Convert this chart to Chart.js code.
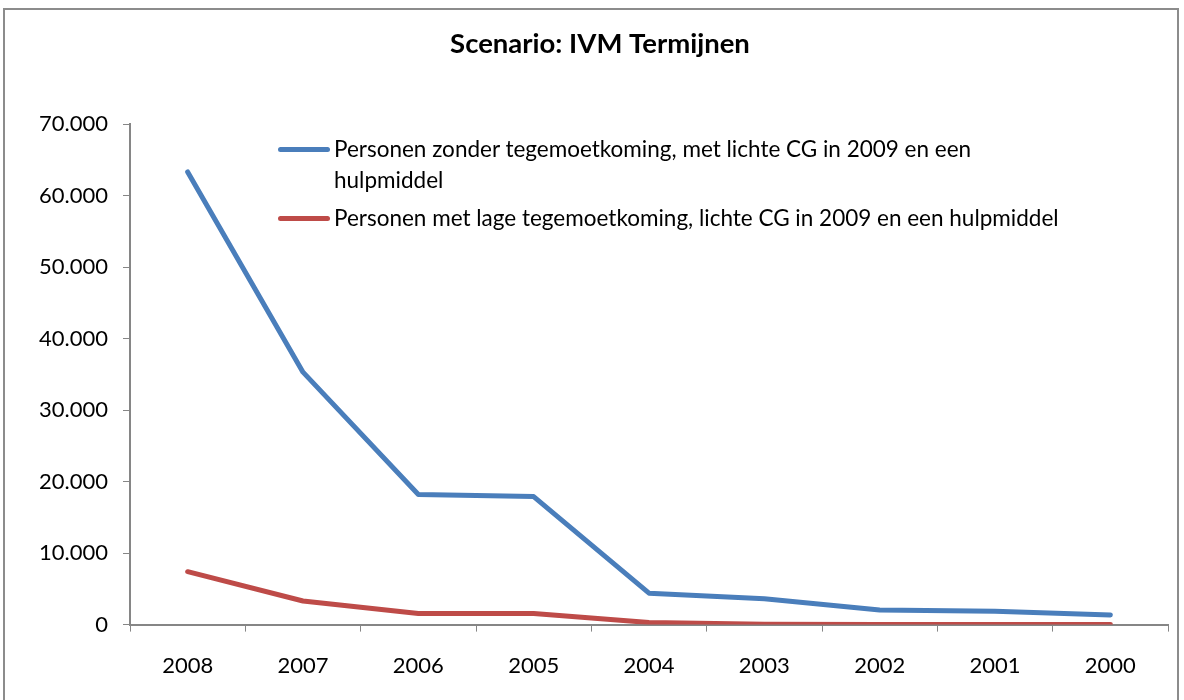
<!DOCTYPE html>
<html>
<head>
<meta charset="utf-8">
<script src="https://cdn.jsdelivr.net/npm/chart.js@4.4.1/dist/chart.umd.min.js"></script>
<style>
  html, body { margin: 0; padding: 0; background: #fff; overflow: hidden; }
  #wrap { position: relative; width: 1184px; height: 700px; }
  #frame { position: absolute; left: 3px; top: 8px; width: 1176px; height: 720px; border: 2px solid #8c8c8c; box-sizing: border-box; }
  canvas { position: absolute; left: 0; top: 0; }
  #legend { position: absolute; left: 278px; top: 133px; font-family: Lato, sans-serif; font-size: 22.5px; color: #000; }
  .item { display: flex; align-items: flex-start; margin-bottom: 7px; }
  .swatch { width: 52px; height: 5px; border-radius: 3px; margin-top: 14px; margin-right: 4px; flex: none; }
  .txt { line-height: 31px; white-space: nowrap; }
</style>
</head>
<body>
<div id="wrap">
  <div id="frame"></div>
  <canvas id="chart" width="1184" height="700"></canvas>
  <div id="legend"></div>
</div>
<script>
const years = ['2008', '2007', '2006', '2005', '2004', '2003', '2002', '2001', '2000'];
const zonderTegemoetkoming = [63300, 35300, 18200, 17900, 4400, 3600, 2050, 1850, 1350];
const lageTegemoetkoming = [7400, 3300, 1550, 1550, 300, 50, 30, 20, 10];
const seriesLabels = [
  ['Personen zonder tegemoetkoming,  met lichte CG in 2009 en een', 'hulpmiddel'],
  ['Personen met lage tegemoetkoming,  lichte CG in 2009 en een hulpmiddel']
];
const colors = ['#4a7ebb', '#be4b48'];

const fmt = v => v === 0 ? '0' : String(v).replace(/\B(?=(\d{3})+(?!\d))/g, '.');
const axisGrey = '#868686';

const chart = new Chart(document.getElementById('chart'), {
  type: 'line',
  data: {
    labels: years,
    datasets: [
      { label: seriesLabels[0].join(' '), data: zonderTegemoetkoming, borderColor: colors[0], backgroundColor: colors[0] },
      { label: seriesLabels[1].join(' '), data: lageTegemoetkoming, borderColor: colors[1], backgroundColor: colors[1] }
    ]
  },
  options: {
    responsive: false,
    animation: false,
    layout: { padding: { left: 32, right: 16, top: 0, bottom: 0 } },
    elements: {
      line: { borderWidth: 5, tension: 0, borderCapStyle: 'round', borderJoinStyle: 'round' },
      point: { radius: 0, hoverRadius: 0 }
    },
    plugins: {
      legend: { display: false },
      tooltip: { enabled: false },
      title: {
        display: true,
        text: 'Scenario: IVM Termijnen',
        color: '#000',
        font: { family: 'Lato', size: 27.5, weight: 'bold' },
        padding: { top: 28, bottom: 63 }
      }
    },
    scales: {
      x: {
        offset: true,
        grid: { offset: true, drawOnChartArea: false, color: axisGrey, tickLength: 7 },
        border: { color: axisGrey, width: 2 },
        ticks: { color: '#000', font: { family: 'Lato', size: 22 }, padding: 21, maxRotation: 0 }
      },
      y: {
        min: 0,
        max: 70000,
        afterFit: s => { s.width = 98; },
        grid: { drawOnChartArea: false, color: axisGrey, tickLength: 7 },
        border: { color: axisGrey, width: 2 },
        ticks: { stepSize: 10000, color: '#000', font: { family: 'Lato', size: 22 }, padding: 15, callback: v => fmt(v) }
      }
    }
  }
});

// legend with wrapped first entry, built from the datasets
const legend = document.getElementById('legend');
chart.data.datasets.forEach((ds, i) => {
  const item = document.createElement('div');
  item.className = 'item';
  const sw = document.createElement('div');
  sw.className = 'swatch';
  sw.style.background = ds.borderColor;
  const txt = document.createElement('div');
  txt.className = 'txt';
  txt.innerHTML = seriesLabels[i].join('<br>');
  item.appendChild(sw);
  item.appendChild(txt);
  legend.appendChild(item);
});
</script>
</body>
</html>
